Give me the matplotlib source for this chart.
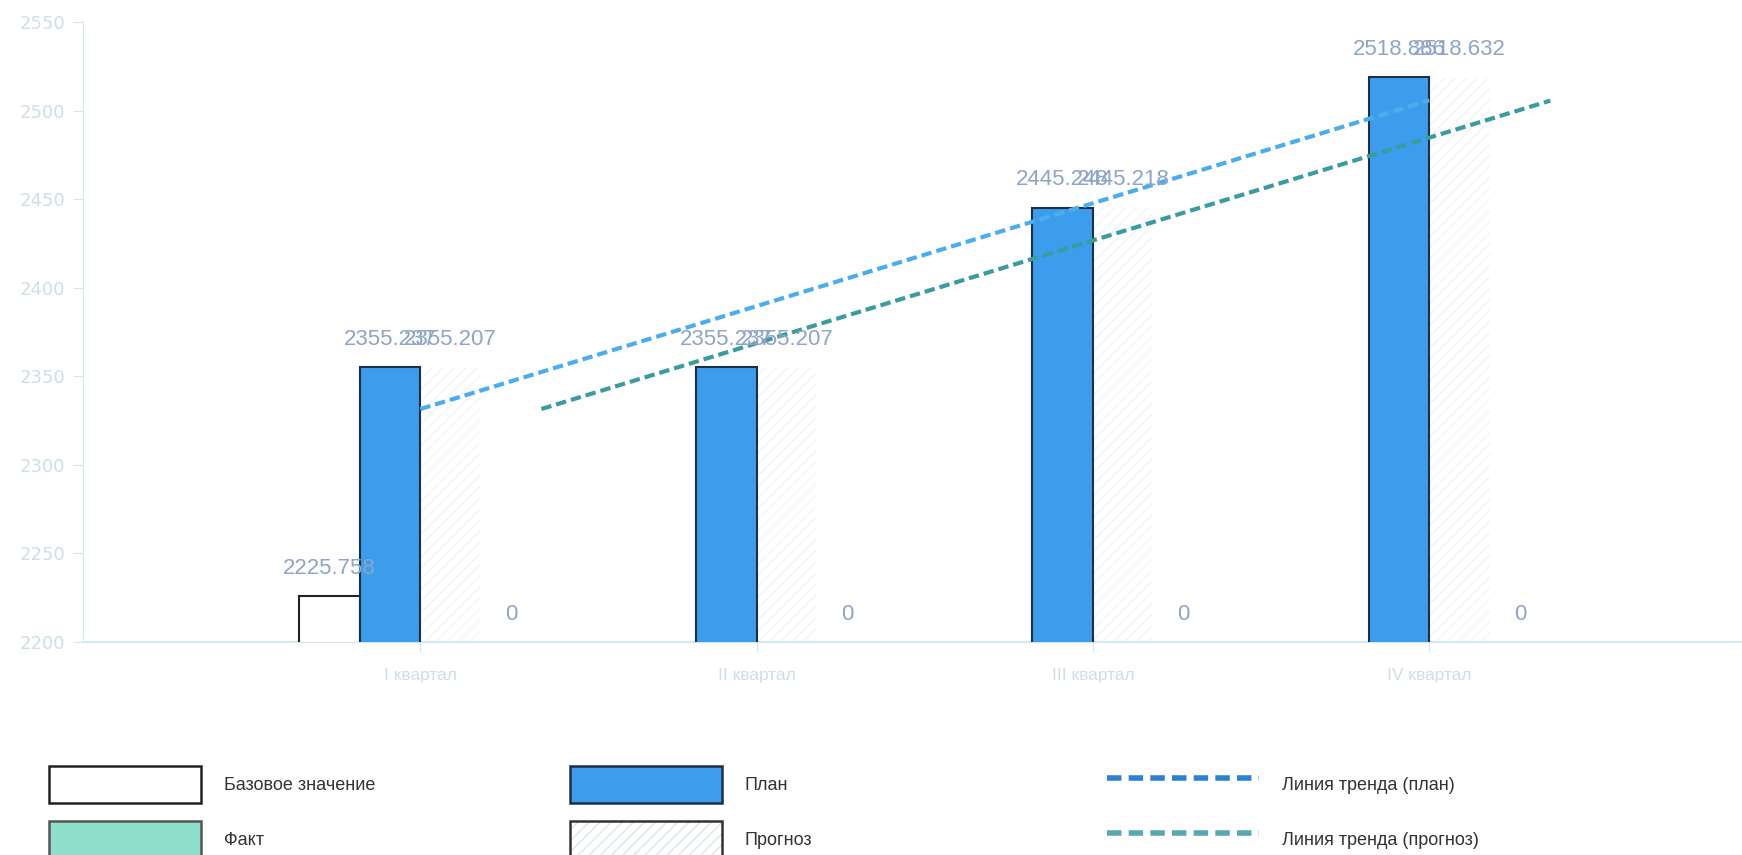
import numpy as np
import matplotlib
matplotlib.use("Agg")
import matplotlib.pyplot as plt
from matplotlib.patches import Patch
from matplotlib.lines import Line2D

# data
quarters = ["I квартал", "II квартал", "III квартал", "IV квартал"]
base = [2225.758, np.nan, np.nan, np.nan]
plan = [2355.237, 2355.237, 2445.248, 2518.886]
prognoz = [2355.207, 2355.207, 2445.218, 2518.632]
fact = [0, 0, 0, 0]

y_ticks = [2200, 2250, 2300, 2350, 2400, 2450, 2500, 2550]

# colours
c_plan = "#3d9ded"
c_plan_edge = "#1c2f44"
c_label = "#8ea4c8"
c_axis = "#d3e8ef"
c_tick = "#cddfe7"
c_trend_plan = "#4aaeee"
c_trend_prog = "#3a9c9e"

narrow = ["Liberation Sans Narrow", "Liberation Sans", "DejaVu Sans"]

fig = plt.figure(figsize=(17.42, 8.55), dpi=100)
ax = fig.add_axes([83 / 1742, 1 - 642 / 855, 1 - 83 / 1742, (642 - 22) / 855])

x = np.arange(len(quarters))
w = 0.18

ax.bar(x - 1.5 * w, base, w, color="white", edgecolor="#222222", linewidth=1.5, zorder=3)
ax.bar(x - 0.5 * w, plan, w, color=c_plan, edgecolor=c_plan_edge, linewidth=1.5, zorder=3)
ax.bar(x + 0.5 * w, prognoz, w, color="none", edgecolor="#f1f5f7", hatch="///", linewidth=0, zorder=2)
ax.bar(x + 1.5 * w, fact, w, color="#8ee0cc", edgecolor="#444444", linewidth=1, zorder=3)

# trend lines (least squares over quarters)
kp = np.polyfit(x, plan, 1)
kf = np.polyfit(x, prognoz, 1)
dash = (0, (2.5, 1.2))
ax.plot(x, np.polyval(kp, x), color=c_trend_plan, lw=3, linestyle=dash, zorder=4)
ax.plot(x + 2 * w, np.polyval(kf, x), color=c_trend_prog, lw=3, linestyle=dash, zorder=4)

ymin, ymax = 2200, 2550


def put_labels(xs, vals):
    for xi, v in zip(xs, vals):
        if np.isnan(v):
            continue
        txt = f"{v:g}" if v == 0 else f"{v:.3f}"
        ax.annotate(txt, (xi, max(v, ymin)), xytext=(0, 20), textcoords="offset points",
                    ha="center", va="center", fontsize=16, color=c_label,
                    family="Liberation Sans", zorder=5)


put_labels(x - 1.5 * w, base)
put_labels(x - 0.5 * w, plan)
put_labels(x + 0.5 * w, prognoz)
put_labels(x + 1.5 * w, fact)

ax.set_ylim(ymin, ymax)
ax.set_xlim(-1.003, 3.93)
ax.set_yticks(y_ticks)
ax.set_xticks(x)
ax.set_xticklabels(quarters, family=narrow, fontsize=12.5, color=c_tick)
for lab in ax.get_yticklabels():
    lab.set_color(c_tick)
    lab.set_fontsize(13)
ax.tick_params(axis="y", length=7, color=c_axis, pad=6)
ax.tick_params(axis="x", length=7, color=c_axis, pad=12)

for s in ["top", "right"]:
    ax.spines[s].set_visible(False)
ax.spines["left"].set_color(c_axis)
ax.spines["bottom"].set_color(c_axis)
ax.spines["bottom"].set_linewidth(1.5)

# legend, three columns placed separately
fs = 13
lkw = dict(frameon=False, handlelength=8.4, handleheight=2.77,
           handletextpad=1.28, labelspacing=1.0, borderpad=0, borderaxespad=0,
           loc="upper left", prop={"family": narrow, "size": fs})

h_base = Patch(facecolor="white", edgecolor="#222222", linewidth=1.8)
h_fact = Patch(facecolor="#8ee0cc", edgecolor="#555555", linewidth=1.8)
h_plan = Patch(facecolor=c_plan, edgecolor=c_plan_edge, linewidth=1.8)
h_prog = (Patch(facecolor="white", edgecolor="#dbe6ec", hatch="///", linewidth=0),
          Patch(facecolor="none", edgecolor="#333333", linewidth=1.8))
h_tp = Line2D([], [], color="#2b82d2", lw=4, linestyle=(0, (2.6, 1.3)))
h_tf = Line2D([], [], color="#5aa9b2", lw=4, linestyle=(0, (2.6, 1.3)))

for hs, ls, x0 in [([h_base, h_fact], ["Базовое значение", "Факт"], 49),
                   ([h_plan, h_prog], ["План", "Прогноз"], 570),
                   ([h_tp, h_tf], ["Линия тренда (план)", "Линия тренда (прогноз)"], 1107)]:
    lg = fig.legend(hs, ls, bbox_to_anchor=(x0 / 1742, 1 - 766 / 855), **lkw)
    for t in lg.get_texts():
        t.set_color("#333333")

fig.savefig("out.png", dpi=100, facecolor="white")
